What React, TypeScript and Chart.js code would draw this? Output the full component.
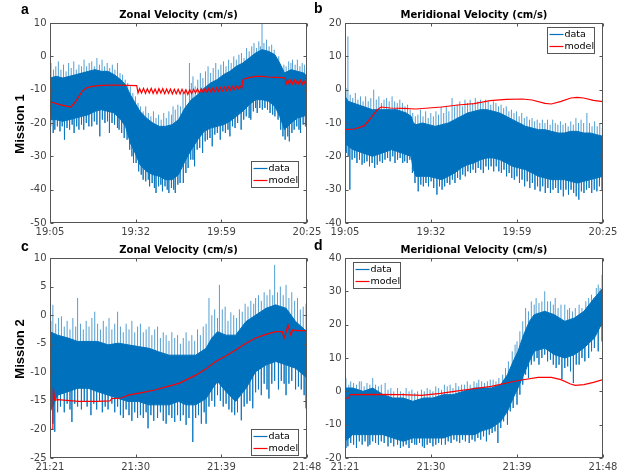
import React, { useEffect, useRef } from 'react';
import { Chart, registerables } from 'chart.js';

Chart.register(...registerables);

const BLUE = '#0072BD';
const SPIKE = 'rgba(0,114,189,0.68)';
const RED = '#ff0000';
const AXIS = '#555555';
const TICK_TEXT = '#444444';
const FONT = "'DejaVu Sans', 'Liberation Sans', sans-serif";

// ---------- Panel a : Mission 1, zonal (minutes after 19:05) ----------
const aXLabels = ['19:05', '19:32', '19:59', '20:25'];
const aBandT = [0, 2, 4, 6, 8, 10, 12, 14, 16, 18, 20, 22, 23.5, 25, 26.5, 28, 30, 32, 34, 36, 38, 40, 42, 44, 46, 48, 50, 52, 54, 56, 58, 60, 62, 64, 66, 68, 70, 71.5, 73, 75, 77, 79, 80];
const aBandHi = [-6.5, -6, -6.5, -6, -5.5, -5, -4.5, -4, -4.5, -4.5, -5.5, -7, -8.5, -11.5, -14, -16.5, -18.5, -20, -21, -21, -20.5, -19, -15.5, -13, -11.5, -9.5, -8, -7, -5.5, -4.5, -3, -2, -0.5, 1, 2, 1.5, 0.5, -2, -5, -4, -4.5, -5, -6];
const aBandLo = [-19, -19, -19.5, -19, -18.5, -18, -17.5, -16.5, -16, -16.5, -17, -19, -21, -26, -29, -32.5, -34.5, -35.5, -36, -37, -37, -35.5, -31.5, -28, -25, -22.5, -21.5, -21, -20.5, -19.5, -18, -16.5, -14.5, -13, -13, -13.5, -15, -18, -22, -20, -18.5, -18, -17.5];
const aSpikesUp = [[0.3, -2], [1.1, -4], [1.8, -3], [2.6, -1.5], [3.4, -4], [4.2, -2.5], [5, -4.5], [5.8, -2], [6.6, -3.5], [7.4, -1.5], [8.2, -4], [9, -2.5], [9.8, -3], [10.6, -1], [11.4, -3], [12.2, -2], [13, -1.5], [13.8, -3], [14.6, -0.5], [15.4, -2.5], [16.2, -1], [17, -3], [17.8, -2], [18.6, -3.5], [19.4, -2.5], [20.2, -4], [21, -2], [21.8, -5], [22.6, -5.5], [23.4, -7], [24.2, -8], [25, -9], [25.8, -11], [26.6, -12], [27.4, -14], [28.2, -15], [29, -16.5], [29.8, -15], [30.6, -17], [31.4, -18], [32.2, -16.5], [33, -18.5], [33.8, -17.5], [34.6, -19], [35.4, -17], [36.2, -18.5], [37, -16.5], [37.8, -17.5], [38.3, -15], [39, -16], [39.8, -14.5], [40.6, -15], [41.4, -11], [42.2, -10], [43.4, -2], [44, -8], [44.5, -6], [45.2, -9], [46, -7], [46.8, -5], [47.6, -6.5], [48.4, -4.5], [49.2, -3], [50, -5], [50.8, -3.5], [51.6, -2], [52.4, -4], [53.2, -2.5], [54, -1.5], [54.8, -3], [55.6, -1], [56.4, -2], [57.2, 0], [58, -1], [58.8, 0.5], [59.6, 1], [60.4, -0.5], [61.2, 2.5], [62, 1.5], [62.8, 3], [63.5, 4], [64.3, 2.5], [65, 4.5], [65.5, 3], [66, 10], [66.6, 4], [67.4, 5], [68.2, 3], [69, 3.5], [69.8, 2], [70.5, -1], [71.2, 0], [72, -3], [72.8, -2.5], [73.5, -3], [74.3, -1.5], [75, -2], [75.5, -1], [76.3, -2.5], [77, -1], [77.8, -3], [78.5, -2], [79.2, -2.5], [79.8, -4]];
const aSpikesDown = [[0.2, -21], [1, -23], [1.5, -22], [2.3, -21], [3.1, -22.5], [3.8, -21], [4.5, -25], [5.3, -21.5], [6.1, -22], [6.9, -20.5], [7.5, -23], [8.3, -21], [9, -22], [9.8, -20.5], [10.5, -22], [11.3, -20], [12.1, -21], [13, -21], [13.8, -19.5], [14.6, -20.5], [15.5, -24], [16.3, -19], [17.1, -20], [17.9, -19.5], [18.5, -23], [19.3, -20], [20.1, -20.5], [21, -21.5], [21.5, -22], [22.3, -23], [23.1, -24.5], [24, -25], [24.8, -28], [25.5, -30], [26, -32], [26.8, -32], [27.6, -34.5], [28.4, -35.5], [29, -37], [29.8, -37.5], [30.6, -37], [31, -39], [31.8, -38], [32.5, -39.5], [33, -41], [33.8, -39], [34.5, -38.5], [35, -40.5], [35.8, -39], [36.5, -40], [37, -41], [37.8, -39.5], [38.5, -40], [39, -41], [39.8, -38.5], [40.5, -38], [41.5, -38], [42.3, -35], [43, -33.5], [43.8, -31], [44.5, -31], [45, -33], [45.8, -28], [46.6, -27.5], [47.5, -29], [48.3, -25.5], [49, -25], [49.8, -24.5], [50.5, -27], [51.3, -23.5], [52.1, -23], [53, -25], [53.8, -22.5], [54.6, -23], [55.4, -22], [56, -24], [56.8, -21], [57.6, -21.5], [58.4, -20], [59.5, -22], [60.3, -19], [61.1, -18], [62, -18.5], [62.5, -19], [63.3, -16.5], [64, -15.5], [64.5, -17], [65.3, -15.5], [66.1, -16], [66.9, -15.5], [67.7, -16], [68.5, -17], [69.3, -17.5], [70, -18], [71, -19], [71.8, -22], [72.5, -24], [73.2, -25], [74, -24], [74.5, -25.5], [75.3, -23], [76, -22], [76.8, -21], [77.5, -22], [78, -23], [78.8, -20.5], [79.5, -21]];
const aModelT = [0, 0.15, 0.3, 0.6, 3, 6.5, 8, 10, 11.3, 13, 16, 20, 24, 27,
  27.4, 27.9, 28.5, 29.1, 29.7, 30.3, 30.9, 31.5, 32.1, 32.7, 33.3, 33.9, 34.5, 35.1, 35.7, 36.3, 36.9, 37.5, 38.1, 38.7, 39.3, 39.9, 40.5, 41.1, 41.7, 42.3, 42.9, 43.5,
  44.1, 44.7, 45.3, 45.9, 46.5, 47.1, 47.7, 48.3, 48.9, 49.5, 50.1, 50.7, 51.3, 51.9, 52.5, 53.1, 53.7, 54.3, 54.9, 55.5, 56.1, 56.7, 57.3, 57.9, 58.5, 59.1, 59.7,
  60, 60.3, 62, 64, 66, 68, 70, 72.5, 73.2,
  73.5, 74, 74.5, 75, 75.5, 76, 76.5, 77, 77.5, 78, 78.5, 79, 79.5, 80];
const aModelV = [-17.5, -12, -13.5, -13.8, -14.5, -15.2, -13.5, -10.5, -9.5, -9, -8.7, -8.6, -8.7, -8.8,
  -11, -9.7, -11, -9.6, -11.1, -9.7, -11, -9.6, -11.1, -9.8, -11.2, -9.7, -11, -9.7, -11.2, -9.8, -11.1, -9.8, -11.3, -9.9, -11.2, -9.9, -11.3, -9.9, -11.2, -10, -11.4, -10,
  -11.2, -9.9, -11, -9.8, -11, -9.7, -10.9, -9.6, -10.8, -9.5, -10.7, -9.5, -10.6, -9.4, -10.5, -9.3, -10.4, -9.2, -10.3, -9.1, -10.2, -9, -10, -8.9, -9.9, -8.8, -9.6,
  -7.2, -6.8, -6.4, -6, -6, -6.2, -6.3, -6.4, -6.6,
  -8.3, -7, -8.4, -7.1, -8.3, -7, -8.4, -7.2, -8.3, -7.2, -8.4, -7.3, -8.3, -7.6];

// ---------- Panel b : Mission 1, meridional ----------
const bBandT = [0, 1, 2.5, 4, 5.5, 7, 8.5, 10, 11.5, 13, 14.5, 16, 17.5, 19, 20.5, 21.2, 22, 24, 26, 28, 30, 32, 34, 36, 38, 40, 42, 44, 46, 48, 50, 52, 54, 56, 58, 60, 62, 64, 66, 68, 70, 72, 74, 76, 78, 80];
const bBandHi = [-2, -3.5, -4, -4.5, -5, -5.5, -6, -6, -6, -6, -6, -6, -6.5, -7, -8, -10, -10.5, -10, -10.5, -11, -10.5, -10, -9, -8, -7, -6.5, -6, -6, -6.5, -7, -8, -9, -10, -11, -11.5, -12, -12, -12.5, -13, -13, -12.5, -12.5, -13, -13, -13.5, -14];
const bBandLo = [-16, -17, -18, -18.5, -19, -19.5, -20, -19.5, -19, -18.5, -18, -18.5, -19, -19.5, -20, -24, -26, -26, -26, -26.5, -27, -26, -25, -23.5, -22.5, -22, -21, -20.5, -20.5, -21, -22, -23, -23.5, -24, -25, -26, -26.5, -27, -27, -27, -27.5, -28, -27.5, -27, -26.5, -26];
const bSpikesUp = [[0.3, 0.5], [0.9, 16], [1.6, -1.5], [2.4, -2.5], [3.2, -1], [4, -3], [4.8, -2], [5.6, -3.5], [6.4, -2], [7.2, -3.5], [8, -2.5], [8.9, 0], [9.7, -3], [10.5, -2], [11.3, -4], [12.1, -3], [12.9, -2.5], [13.7, -3.5], [14.6, -2], [15.4, -3.5], [16.2, -4], [17, -3], [17.8, -4], [18.6, -5], [19.4, -4.5], [20.2, -6], [21, -7], [21.8, -8], [22.6, -7.5], [23.4, -6], [24.2, -8], [25, -6.5], [25.8, -8.5], [26.6, -7], [27.4, -8], [28.2, -6.5], [29, -7.5], [29.8, -5], [30.6, -7], [31.4, -5], [32.2, -6.5], [33.2, -2.5], [34, -5], [34.8, -4.5], [35.6, -3.5], [36.4, -5], [37.2, -3], [38, -4], [38.8, -3], [39.6, -4], [40.4, -2.5], [41.2, -3.5], [42, -3], [42.8, -4], [43.6, -3], [44.4, -3.5], [45.2, -4.5], [46, -3.5], [46.8, -4], [47.6, -5], [48.4, -4.5], [49.2, -5.5], [50, -5], [50.8, -6.5], [51.6, -6], [52.4, -7], [53.2, -6.5], [54, -8], [54.8, -7], [55.6, -8.5], [56.4, -8], [57.2, -9], [58, -8.5], [58.8, -9.5], [59.6, -9], [60.4, -10], [61.2, -9], [62, -10], [62.8, -9], [63.6, -10.5], [64.4, -9], [65.2, -10], [66, -10.5], [66.8, -9.5], [67.6, -10.5], [68.4, -10], [69.2, -11], [70, -9.5], [70.8, -10.5], [71.6, -8.5], [72.4, -10], [73.2, -9], [74, -10], [75, -7], [75.8, -10], [76.6, -11], [77.4, -9.5], [78.2, -11], [79, -10], [79.8, -11.5]];
const bSpikesDown = [[0.4, -19], [1, -20], [1.5, -30], [2.2, -21], [3, -20.5], [3.7, -22], [4.5, -21], [5.3, -22.5], [6, -22], [6.8, -21.5], [7.6, -23], [8.4, -22], [9.2, -23.5], [10, -22.5], [10.8, -21.5], [11.6, -22], [12.4, -21], [13.2, -20.5], [14, -21.5], [14.8, -20], [15.5, -22], [16.3, -21], [17.1, -20.5], [17.9, -22], [18.5, -21.5], [19.3, -22], [20.1, -21], [20.9, -25], [21.7, -28], [22.7, -30.5], [23.5, -28.5], [24.3, -29], [25.1, -28], [25.9, -29], [26.7, -27.5], [27.5, -29.5], [28.5, -31.5], [29.3, -29], [30.1, -30], [30.9, -29], [31.7, -28], [32.5, -28.5], [33.3, -27], [34.1, -28], [34.9, -26.5], [35.7, -27], [36.5, -25.5], [37.3, -26], [38.1, -24.5], [38.9, -25], [39.7, -24], [40.5, -25], [41.3, -23.5], [42.1, -24], [42.9, -25], [43.7, -23], [44.5, -24], [45.3, -23], [46.1, -24.5], [46.9, -23], [47.7, -24.5], [48.5, -25], [49.3, -24], [50.1, -26], [50.9, -25], [51.7, -26.5], [52.5, -27], [53.3, -26], [54.1, -28], [54.9, -27], [55.7, -29], [56.5, -27.5], [57.3, -29.5], [58.1, -28], [58.9, -30], [59.7, -29], [60.5, -30.5], [61.3, -29], [62.1, -31], [62.9, -29.5], [63.7, -31], [64.5, -30], [65.3, -29.5], [66.1, -31], [66.9, -30], [67.7, -32], [68.5, -30], [69.3, -31.5], [70.1, -30], [70.9, -31], [71.7, -32], [72.5, -33], [73.3, -30.5], [74.1, -31], [74.9, -30], [75.7, -29.5], [76.5, -31], [77.3, -30], [78.1, -30.5], [78.9, -29], [79.7, -30]];
const bModelT = [0, 3, 6, 8, 10, 11.2, 14, 18, 22, 30, 35, 40, 45, 50, 55, 58, 62, 64, 67, 70, 72, 74, 77, 80];
const bModelV = [-12, -11.8, -10.8, -8.5, -6, -5.2, -5.5, -5.6, -5.8, -5.2, -4.6, -4.2, -3.3, -2.9, -2.8, -3.1, -4.1, -4.3, -3.5, -2.5, -2.3, -2.5, -3.2, -3.6];

// ---------- Panel c : Mission 2, zonal (minutes after 21:21) ----------
const cdXLabels = ['21:21', '21:30', '21:39', '21:48'];
const cBandT = [0, 0.8, 1.9, 2.9, 4, 5, 6.1, 7.2, 8.2, 9.3, 10.4, 11.4, 12.5, 13.5, 14.3, 15.3, 16.4, 17, 17.6, 18.5, 19.5, 20.6, 21.6, 22.7, 23.7, 24.8, 25.8, 27];
const cBandHi = [-2.9, -3.5, -4, -4.6, -4.6, -4.6, -5.2, -4.9, -5.2, -5.5, -5.8, -6.4, -7, -7, -7, -7, -5.8, -4, -2.9, -3.5, -3.5, -1.1, 0, 1.2, 1.8, 1.2, -1.1, -2.9];
const cBandLo = [-17, -14, -13.4, -12.8, -12.8, -13.4, -14, -14.6, -15.1, -15.1, -15.7, -15.7, -15.7, -15.1, -15.7, -15.7, -14.6, -13, -11.6, -13.4, -15.1, -12.8, -9.9, -8.7, -8.1, -8.7, -9.3, -11];
const cSpikesUp = [[0.1, -1], [0.3, 1.8], [0.6, -1.5], [0.9, -0.5], [1.2, -0.2], [1.5, -2], [1.8, -1], [2.1, -2.5], [2.4, -0.5], [2.7, -2], [2.9, 3], [3.2, -1.5], [3.5, -2.5], [3.8, -1], [4.1, -2], [4.4, -0.5], [4.7, 0.6], [5, -1.5], [5.3, -2.5], [5.6, -1], [5.9, -2], [6.2, -0.5], [6.5, -2.5], [6.8, -1.5], [7.1, 0.6], [7.4, -2], [7.7, -3], [8, -1.5], [8.3, -2.5], [8.6, -1], [8.9, -3], [9.2, -2], [9.5, -1.5], [9.8, -3], [10.1, -2.5], [10.4, -2], [10.7, -3.5], [11, -2.5], [11.3, -2], [11.6, -4], [11.9, -3], [12.2, -3.5], [12.5, -4.5], [12.8, -3], [13.1, -4], [13.4, -3.5], [13.7, -5], [14, -4], [14.3, -3], [14.6, -4.5], [14.9, -3.5], [15.2, -4.5], [15.5, -2.5], [15.8, -3.5], [16.1, -2], [16.4, -1.5], [16.7, 3], [17, 0], [17.3, 1], [17.6, -0.5], [17.8, 5.3], [18.1, 1], [18.4, 1.5], [18.7, -1], [19, 0.5], [19.3, 0], [19.6, -0.5], [19.9, 1], [20.2, 0.6], [20.5, 2], [20.8, 1.5], [21.1, 2.5], [21.4, 2], [21.6, 3], [21.9, 3.5], [22.2, 2.5], [22.5, 4], [22.8, 3.5], [23.1, 4.5], [23.4, 3.5], [23.6, 8.8], [23.9, 4], [24.2, 5], [24.5, 3.5], [24.8, 5.3], [25.1, 3], [25.4, 4], [25.7, 2.5], [26, 3], [26.3, 1], [26.6, 1.5], [26.9, 2]];
const cSpikesDown = [[0.05, -20.5], [0.3, -19], [0.5, -20.4], [0.8, -17], [1.1, -16], [1.5, -17], [1.8, -15.5], [2.1, -16.5], [2.3, -18.7], [2.6, -15.5], [2.9, -16], [3.3, -16.5], [3.6, -15], [3.9, -16], [4.3, -17.5], [4.6, -15.5], [4.9, -16.5], [5.2, -15], [5.5, -17], [5.8, -16], [6.1, -16.5], [6.5, -15.5], [6.8, -17], [7.1, -16], [7.4, -17.5], [7.7, -18], [8, -16.5], [8.3, -17.5], [8.6, -18.5], [8.9, -17], [9.2, -18], [9.5, -17.5], [9.8, -18], [10.1, -17], [10.3, -19.8], [10.6, -17.5], [10.9, -18.5], [11.3, -18], [11.6, -17], [11.9, -18.5], [12.2, -19], [12.5, -17.5], [12.8, -18], [13.1, -18.7], [13.4, -17.5], [13.7, -18.5], [14, -17.5], [14.3, -19.2], [14.6, -18], [15, -22.2], [15.3, -18], [15.6, -17.5], [15.9, -19], [16.2, -17], [16.4, -19], [16.7, -16], [17, -15], [17.3, -16], [17.6, -14], [17.9, -15], [18.2, -16], [18.5, -15.5], [18.8, -16.5], [19.1, -17], [19.4, -17.5], [19.7, -17], [20.1, -18.4], [20.4, -16], [20.7, -15.5], [21, -15], [21.3, -16.3], [21.6, -13.5], [21.9, -13], [22.2, -14], [22.5, -12], [22.8, -13], [23, -14.6], [23.3, -12], [23.6, -11.5], [24, -13], [24.3, -11.5], [24.6, -12], [24.8, -14], [25.1, -12], [25.4, -11.5], [25.8, -13], [26.1, -12.5], [26.4, -13], [26.7, -14], [26.9, -16.3]];
const cModelT = [0, 0.3, 0.35, 0.5, 0.8, 3, 5, 6.3, 6.5, 7.5, 8.2, 9.5, 11, 12.3, 13.6, 15.3, 16.4, 17.4, 18.5, 19.5, 20.5, 21.6, 22.6, 23.7, 24.4, 24.6, 24.8, 25, 25.3, 25.5, 26, 27];
const cModelV = [-20, -20, -12.8, -14.9, -14.8, -15.1, -15.1, -15, -14.6, -14.5, -14, -13.6, -13.1, -12.5, -11.9, -10.5, -9.4, -8.1, -7.1, -6.1, -5, -4, -3.4, -2.9, -2.9, -4, -3, -1.7, -3.5, -2.6, -2.7, -2.7];

// ---------- Panel d : Mission 2, meridional ----------
const dBandT = [0, 0.8, 1.9, 2.9, 4, 5, 6.1, 7.1, 8.2, 9.2, 10.3, 11.3, 12.4, 13.6, 14.2, 15.3, 16.3, 17, 17.6, 18.1, 18.7, 19.3, 19.8, 20.9, 21.9, 23, 24, 25, 26.1, 27];
const dBandHi = [1, 1, 0, 1, -1, -2, -2, -3, -2, -2, -1, -1, 0, 1, 1, 1, 2, 5, 9, 12, 17, 21, 23, 24, 23, 21, 22, 24, 28, 31];
const dBandLo = [-15, -13, -13, -13, -13, -14, -15, -14, -14, -14, -14, -13, -13, -13, -12, -11, -9, -6, -2, 1, 5, 9, 12, 13, 11, 10, 11, 13, 16, 21];
const dSpikesUp = [[0.1, 4], [0.4, 2], [0.6, 3], [0.9, 2.5], [1.2, 2], [1.5, 3], [1.7, 3], [2, 1.5], [2.3, 2.5], [2.6, 2], [2.9, 4], [3.2, 2], [3.5, 1.5], [3.8, 2], [4.2, 2.5], [4.5, 0.5], [4.8, 1], [5.1, 0], [5.5, 1], [5.8, 0], [6.1, -0.5], [6.4, 1], [6.7, 0], [7, 0.5], [7.3, -0.5], [7.6, 0], [8, 0.5], [8.3, 0], [8.6, 1], [8.9, 0.5], [9.2, 0], [9.5, 1.5], [9.8, 1], [10.1, 0.5], [10.4, 2], [10.7, 1.5], [11, 2], [11.3, 1], [11.6, 2.5], [11.9, 1.5], [12.2, 2], [12.5, 2], [12.8, 3], [13.1, 2], [13.5, 3], [13.8, 2.5], [14, 3.5], [14.3, 3], [14.6, 2.5], [14.9, 3], [15.2, 3.5], [15.5, 3.5], [15.8, 3], [16.1, 4], [16.5, 5], [16.8, 7], [17.1, 9], [17.5, 12], [17.8, 14], [18, 15], [18.3, 18], [18.6, 21], [18.9, 25], [19.2, 24], [19.5, 27], [19.8, 26], [20, 28], [20.3, 26.5], [20.6, 27], [20.9, 30], [21.2, 27], [21.5, 27], [21.8, 26], [22, 28], [22.3, 25], [22.6, 26], [23, 26], [23.3, 24.5], [23.5, 25], [23.8, 24], [24.1, 25], [24.5, 26], [24.8, 25], [25.2, 27], [25.5, 28], [25.8, 29], [26, 28], [26.3, 31], [26.5, 32], [26.7, 31], [26.9, 35]];
const dSpikesDown = [[0.1, -17], [0.3, -16.5], [0.6, -15.5], [0.9, -16], [1.2, -17], [1.5, -15], [1.8, -16], [2.1, -15], [2.4, -16.5], [2.6, -16], [2.9, -15], [3.2, -15.5], [3.5, -16], [3.8, -15], [4.1, -15.5], [4.5, -16.5], [4.8, -15.5], [5.1, -16.5], [5.5, -16], [5.8, -17], [6.1, -16.5], [6.4, -16], [6.7, -17], [7, -15.5], [7.3, -16], [7.5, -16], [7.8, -15.5], [8.1, -16.5], [8.3, -17], [8.6, -16], [8.9, -15.5], [9.2, -16.5], [9.5, -16], [9.8, -15.5], [10.1, -16], [10.5, -16], [10.8, -15], [11.1, -15.5], [11.4, -14.5], [11.7, -15], [12, -15.5], [12.3, -14.5], [12.6, -15], [13, -15.5], [13.3, -14.5], [13.6, -15], [13.9, -14], [14.2, -14.5], [14.5, -13.5], [14.8, -15], [15.1, -13], [15.4, -12.5], [15.7, -12], [16, -15.5], [16.3, -11], [16.6, -9], [17, -10], [17.3, -6], [17.6, -5], [18, -4], [18.3, -1], [18.6, 2], [18.9, 5], [19.2, 4], [19.5, 8], [19.8, 9], [20.1, 10], [20.3, 8], [20.6, 10], [20.9, 11], [21.2, 9], [21.5, 9.5], [21.8, 8], [22.1, 7], [22.4, 8], [22.7, 3.7], [23, 7], [23.3, 7.5], [23.6, 6], [23.9, 2.5], [24.2, 8], [24.5, 8], [24.8, 10], [25.1, 9], [25.5, 10], [25.8, 12], [26.1, 13], [26.5, 12], [26.9, 15]];
const dModelT = [0, 0.4, 0.5, 3, 6, 8, 10, 12, 13.2, 15.3, 17.4, 18.5, 20.2, 21.6, 22.6, 23.6, 24.1, 25, 26, 27];
const dModelV = [-2, -2, -1, -0.9, -1, -1.2, -0.6, 0.2, 0.7, 1.5, 2.8, 3.4, 4.2, 4.2, 3.5, 2.2, 1.8, 2, 2.7, 3.5];

type Spec = {
  left: number; top: number; w: number; h: number;
  L: number; T: number; R: number; B: number;
  xMax: number; xLabels: string[];
  yMin: number; yMax: number; yStep: number;
  title: string;
  bandT: number[]; bandHi: number[]; bandLo: number[];
  spikes: number[][];
  modelT: number[]; modelV: number[];
  legend: { dx: number; dy: number };
};

// each peak is drawn as a thin stroke from the middle of the dense band (nearest sample) out to its value
function spikeData(bandT: number[], hi: number[], lo: number[], spikes: number[][]) {
  const out: { x: number; y: number | null }[] = [];
  spikes.forEach(([t, v]) => {
    let k = 0;
    for (let i = 1; i < bandT.length; i++) {
      if (Math.abs(bandT[i] - t) < Math.abs(bandT[k] - t)) k = i;
    }
    const mid = (hi[k] + lo[k]) / 2;
    out.push({ x: t, y: mid }, { x: t, y: v }, { x: t, y: null });
  });
  return out;
}

function Panel({ spec }: { spec: Spec }) {
  const ref = useRef<HTMLCanvasElement>(null);
  useEffect(() => {
    const s = spec;
    const tickPos = s.xLabels.map((_, i) => (s.xMax * i) / (s.xLabels.length - 1));
    const boxPlugin = {
      id: 'mlBox',
      afterDatasetsDraw(chart: any) {
        const { ctx, chartArea: a, scales } = chart;
        ctx.save();
        ctx.strokeStyle = AXIS;
        ctx.lineWidth = 1;
        const l = Math.round(a.left) + 0.5, r = Math.round(a.right) - 0.5;
        const t = Math.round(a.top) + 0.5, b = Math.round(a.bottom) - 0.5;
        ctx.strokeRect(l, t, r - l, b - t);
        ctx.beginPath();
        scales.x.ticks.forEach((tk: any) => {
          const x = Math.round(scales.x.getPixelForValue(tk.value)) + 0.5;
          ctx.moveTo(x, b); ctx.lineTo(x, b - 3);
          ctx.moveTo(x, t); ctx.lineTo(x, t + 3);
        });
        scales.y.ticks.forEach((tk: any) => {
          const y = Math.round(scales.y.getPixelForValue(tk.value)) + 0.5;
          ctx.moveTo(l, y); ctx.lineTo(l + 3, y);
          ctx.moveTo(r, y); ctx.lineTo(r - 3, y);
        });
        ctx.stroke();
        // legend
        const bx = Math.round(a.left + s.legend.dx) + 0.5;
        const by = Math.round(a.top + s.legend.dy) + 0.5;
        const bw = 47, bh = 26;
        ctx.fillStyle = '#ffffff';
        ctx.fillRect(bx, by, bw, bh);
        ctx.strokeStyle = AXIS;
        ctx.strokeRect(bx, by, bw, bh);
        const rows = [{ label: 'data', color: BLUE, y: by + 7 }, { label: 'model', color: RED, y: by + 19 }];
        ctx.font = `9.5px ${FONT}`;
        ctx.textBaseline = 'middle';
        ctx.textAlign = 'left';
        rows.forEach((row) => {
          ctx.strokeStyle = row.color;
          ctx.lineWidth = 1.2;
          ctx.beginPath();
          ctx.moveTo(bx + 2, row.y);
          ctx.lineTo(bx + 16, row.y);
          ctx.stroke();
          ctx.fillStyle = '#000000';
          ctx.fillText(row.label, bx + 17, row.y);
        });
        ctx.restore();
      },
    };
    const chart = new Chart(ref.current as HTMLCanvasElement, {
      type: 'line',
      data: {
        datasets: [
          {
            label: 'data',
            data: s.bandT.map((t, i) => ({ x: t, y: s.bandHi[i] })),
            borderColor: BLUE, borderWidth: 1, pointRadius: 0, fill: false, order: 2,
          },
          {
            label: 'data (lower)',
            data: s.bandT.map((t, i) => ({ x: t, y: s.bandLo[i] })),
            borderColor: BLUE, borderWidth: 1, pointRadius: 0, fill: '-1', backgroundColor: BLUE, order: 2,
          },
          {
            label: 'data (peaks)',
            data: spikeData(s.bandT, s.bandHi, s.bandLo, s.spikes),
            borderColor: SPIKE, borderWidth: 1, pointRadius: 0, spanGaps: false, order: 3,
          },
          {
            label: 'model',
            data: s.modelT.map((t, i) => ({ x: t, y: s.modelV[i] })),
            borderColor: RED, borderWidth: 1.2, pointRadius: 0, fill: false, order: 1,
          },
        ] as any,
      },
      options: {
        animation: false,
        responsive: false,
        devicePixelRatio: 1,
        events: [],
        layout: { padding: { left: 0, top: 0, right: s.w - s.R, bottom: 0 } },
        plugins: {
          legend: { display: false },
          tooltip: { enabled: false },
          title: {
            display: true,
            text: s.title,
            fullSize: false,
            color: '#000000',
            font: { family: FONT, size: 10, weight: 'bold', lineHeight: 1.2 },
            padding: { top: s.T - 14, bottom: 2 },
          },
        },
        scales: {
          x: {
            type: 'linear',
            min: 0,
            max: s.xMax,
            grid: { display: false, drawTicks: false },
            border: { display: false },
            afterBuildTicks: (scale: any) => {
              scale.ticks = tickPos.map((v) => ({ value: v }));
            },
            afterFit: (scale: any) => {
              scale.height = s.h - s.B;
              scale.paddingLeft = 0;
              scale.paddingRight = 0;
            },
            ticks: {
              autoSkip: false,
              maxRotation: 0,
              minRotation: 0,
              padding: 3,
              color: TICK_TEXT,
              font: { family: FONT, size: 10 },
              callback: (_v: any, i: number) => s.xLabels[i],
            },
          },
          y: {
            type: 'linear',
            min: s.yMin,
            max: s.yMax,
            grid: { display: false, drawTicks: false },
            border: { display: false },
            afterFit: (scale: any) => {
              scale.width = s.L;
              scale.paddingTop = 0;
              scale.paddingBottom = 0;
            },
            ticks: {
              stepSize: s.yStep,
              padding: 3.5,
              color: TICK_TEXT,
              font: { family: FONT, size: 10 },
            },
          },
        },
      } as any,
      plugins: [boxPlugin],
    });
    return () => chart.destroy();
  }, [spec]);
  return (
    <canvas
      ref={ref}
      width={spec.w}
      height={spec.h}
      style={{ position: 'absolute', left: spec.left, top: spec.top, width: spec.w, height: spec.h }}
    />
  );
}

const specA: Spec = {
  left: 0, top: 0, w: 330, h: 236, L: 50, T: 23, R: 307, B: 223,
  xMax: 80, xLabels: aXLabels, yMin: -50, yMax: 10, yStep: 10,
  title: 'Zonal Velocity (cm/s)',
  bandT: aBandT, bandHi: aBandHi, bandLo: aBandLo, spikes: [...aSpikesUp, ...aSpikesDown],
  modelT: aModelT, modelV: aModelV, legend: { dx: 201, dy: 138 },
};
const specB: Spec = {
  left: 295, top: 0, w: 333, h: 236, L: 50, T: 23, R: 308, B: 223,
  xMax: 80, xLabels: aXLabels, yMin: -40, yMax: 20, yStep: 10,
  title: 'Meridional Velocity (cm/s)',
  bandT: bBandT, bandHi: bBandHi, bandLo: bBandLo, spikes: [...bSpikesUp, ...bSpikesDown],
  modelT: bModelT, modelV: bModelV, legend: { dx: 202, dy: 4 },
};
const specC: Spec = {
  left: 0, top: 236, w: 330, h: 240, L: 50, T: 22, R: 307, B: 222,
  xMax: 27, xLabels: cdXLabels, yMin: -25, yMax: 10, yStep: 5,
  title: 'Zonal Velocity (cm/s)',
  bandT: cBandT, bandHi: cBandHi, bandLo: cBandLo, spikes: [...cSpikesUp, ...cSpikesDown],
  modelT: cModelT, modelV: cModelV, legend: { dx: 201, dy: 171 },
};
const specD: Spec = {
  left: 295, top: 236, w: 333, h: 240, L: 50, T: 22, R: 308, B: 222,
  xMax: 27, xLabels: cdXLabels, yMin: -20, yMax: 40, yStep: 10,
  title: 'Meridional Velocity (cm/s)',
  bandT: dBandT, bandHi: dBandHi, bandLo: dBandLo, spikes: [...dSpikesUp, ...dSpikesDown],
  modelT: dModelT, modelV: dModelV, legend: { dx: 8, dy: 4 },
};

const letterStyle: React.CSSProperties = {
  position: 'absolute',
  fontFamily: "'Liberation Sans', Arial, sans-serif",
  fontWeight: 'bold',
  fontSize: 14,
  lineHeight: '14px',
  color: '#000',
};

const missionStyle: React.CSSProperties = {
  position: 'absolute',
  fontFamily: "'Liberation Sans', Arial, sans-serif",
  fontWeight: 'bold',
  fontSize: 13,
  lineHeight: '13px',
  color: '#000',
  whiteSpace: 'nowrap',
  transform: 'translate(-50%, -50%) rotate(-90deg)',
};

export default function App() {
  return (
    <div style={{ position: 'absolute', left: 0, top: 0, width: 628, height: 476, background: '#fff', overflow: 'hidden' }}>
      <Panel spec={specA} />
      <Panel spec={specB} />
      <Panel spec={specC} />
      <Panel spec={specD} />
      <div style={{ ...letterStyle, left: 21, top: 2 }}>a</div>
      <div style={{ ...letterStyle, left: 314, top: 1 }}>b</div>
      <div style={{ ...letterStyle, left: 21, top: 239 }}>c</div>
      <div style={{ ...letterStyle, left: 314, top: 238 }}>d</div>
      <div style={{ ...missionStyle, left: 19, top: 124 }}>Mission 1</div>
      <div style={{ ...missionStyle, left: 19, top: 349 }}>Mission 2</div>
    </div>
  );
}
